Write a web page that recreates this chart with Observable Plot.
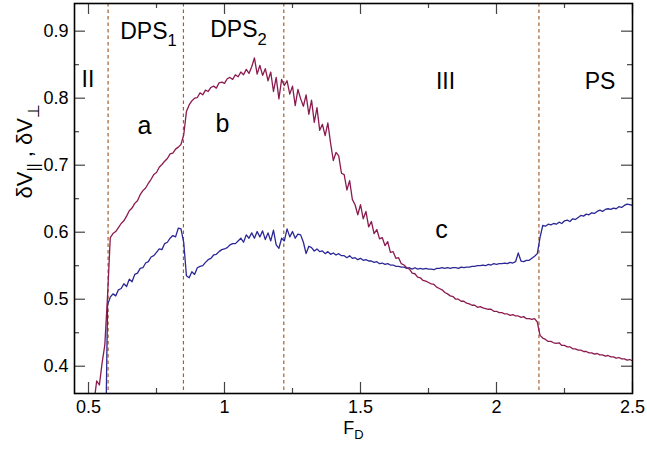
<!DOCTYPE html>
<html><head><meta charset="utf-8">
<script src="https://cdn.jsdelivr.net/npm/d3@7"></script>
<script src="https://cdn.jsdelivr.net/npm/@observablehq/plot@0.6"></script>
<style>body{margin:0;background:#fff} svg{display:block}</style>
</head><body><div id="chart"></div>
<script>
// F_D grid
const fd = [
0.52,0.53,0.54,0.55,0.56,0.57,0.58,0.59,0.60,0.61,
0.62,0.63,0.64,0.65,0.66,0.67,0.68,0.69,0.70,0.71,
0.72,0.73,0.74,0.75,0.76,0.77,0.78,0.79,0.80,0.81,
0.82,0.83,0.84,0.85,0.86,0.87,0.88,0.89,0.90,0.91,
0.92,0.93,0.94,0.95,0.96,0.97,0.98,0.99,1.00,1.01,
1.02,1.03,1.04,1.05,1.06,1.07,1.08,1.09,1.10,1.11,
1.12,1.13,1.14,1.15,1.16,1.17,1.18,1.19,1.20,1.21,
1.22,1.23,1.24,1.25,1.26,1.27,1.28,1.29,1.30,1.31,
1.32,1.33,1.34,1.35,1.36,1.37,1.38,1.39,1.40,1.41,
1.42,1.43,1.44,1.45,1.46,1.47,1.48,1.49,1.50,1.51,
1.52,1.53,1.54,1.55,1.56,1.57,1.58,1.59,1.60,1.61,
1.62,1.63,1.64,1.65,1.66,1.67,1.68,1.69,1.70,1.71,
1.72,1.73,1.74,1.75,1.76,1.77,1.78,1.79,1.80,1.81,
1.82,1.83,1.84,1.85,1.86,1.87,1.88,1.89,1.90,1.91,
1.92,1.93,1.94,1.95,1.96,1.97,1.98,1.99,2.00,2.01,
2.02,2.03,2.04,2.05,2.06,2.07,2.08,2.09,2.10,2.11,
2.12,2.13,2.14,2.15,2.16,2.17,2.18,2.19,2.20,2.21,
2.22,2.23,2.24,2.25,2.26,2.27,2.28,2.29,2.30,2.31,
2.32,2.33,2.34,2.35,2.36,2.37,2.38,2.39,2.40,2.41,
2.42,2.43,2.44,2.45,2.46,2.47,2.48,2.49,2.50];

// δV_|| (maroon)
const dVpar = [
0.345,0.378,0.372,0.405,0.432,0.505,0.592,0.598,0.601,0.607,
0.613,0.617,0.624,0.632,0.636,0.643,0.647,0.656,0.662,0.666,
0.673,0.679,0.686,0.689,0.697,0.701,0.706,0.710,0.717,0.718,
0.724,0.727,0.731,0.745,0.780,0.790,0.796,0.800,0.801,0.808,
0.805,0.812,0.810,0.816,0.818,0.815,0.823,0.824,0.822,0.829,
0.831,0.828,0.835,0.832,0.839,0.835,0.843,0.837,0.847,0.860,
0.836,0.849,0.834,0.844,0.826,0.839,0.810,0.831,0.799,0.828,
0.819,0.826,0.806,0.818,0.789,0.813,0.799,0.788,0.805,0.776,
0.797,0.764,0.786,0.752,0.761,0.744,0.763,0.733,0.707,0.719,
0.714,0.688,0.686,0.663,0.677,0.649,0.641,0.626,0.641,0.620,
0.631,0.608,0.616,0.598,0.604,0.590,0.592,0.580,0.586,0.570,
0.571,0.561,0.562,0.553,0.551,0.547,0.545,0.539,0.538,0.533,
0.532,0.528,0.527,0.525,0.523,0.522,0.518,0.516,0.514,0.510,
0.508,0.505,0.504,0.500,0.500,0.497,0.497,0.494,0.493,0.491,
0.491,0.488,0.489,0.487,0.486,0.485,0.485,0.482,0.482,0.480,
0.480,0.478,0.478,0.476,0.477,0.475,0.475,0.473,0.474,0.471,
0.471,0.470,0.471,0.466,0.446,0.442,0.440,0.437,0.437,0.435,
0.434,0.435,0.431,0.431,0.429,0.429,0.426,0.426,0.424,0.424,
0.422,0.422,0.420,0.420,0.418,0.419,0.417,0.417,0.415,0.416,
0.414,0.414,0.412,0.413,0.411,0.411,0.409,0.410,0.408];

// δV_⊥ (navy)
const dVperp = [
null,null,null,null,0.200,0.492,0.503,0.508,0.505,0.514,
0.516,0.523,0.519,0.530,0.526,0.537,0.539,0.546,0.547,0.554,
0.556,0.563,0.565,0.570,0.575,0.574,0.583,0.585,0.591,0.595,
0.593,0.606,0.605,0.585,0.535,0.532,0.541,0.537,0.547,0.549,
0.550,0.555,0.559,0.561,0.566,0.567,0.571,0.574,0.575,0.577,
0.581,0.583,0.583,0.587,0.591,0.585,0.596,0.591,0.599,0.591,
0.601,0.593,0.602,0.589,0.599,0.587,0.603,0.581,0.576,0.591,
0.587,0.605,0.593,0.601,0.591,0.597,0.596,0.585,0.568,0.579,
0.577,0.572,0.575,0.571,0.572,0.568,0.571,0.567,0.569,0.566,
0.568,0.565,0.565,0.562,0.565,0.561,0.562,0.559,0.561,0.558,
0.559,0.557,0.557,0.555,0.556,0.553,0.554,0.552,0.553,0.551,
0.551,0.549,0.549,0.548,0.548,0.546,0.547,0.545,0.547,0.545,
0.546,0.545,0.546,0.545,0.545,0.544,0.546,0.546,0.547,0.546,
0.547,0.546,0.547,0.547,0.546,0.548,0.547,0.548,0.548,0.549,
0.549,0.550,0.550,0.551,0.550,0.552,0.551,0.553,0.552,0.553,
0.553,0.554,0.553,0.555,0.554,0.556,0.569,0.557,0.556,0.558,
0.558,0.561,0.564,0.568,0.592,0.610,0.609,0.612,0.611,0.613,
0.612,0.615,0.613,0.617,0.618,0.616,0.620,0.619,0.622,0.625,
0.624,0.627,0.626,0.629,0.628,0.631,0.633,0.631,0.634,0.635,
0.634,0.636,0.635,0.638,0.637,0.640,0.642,0.641,0.640];

const boundaries = [0.572, 0.849, 1.218, 2.156];
const xMajor = [0.5, 1, 1.5, 2, 2.5];
const xMinor = [0.75, 1.25, 1.75, 2.25];
const yMajor = [0.4, 0.5, 0.6, 0.7, 0.8, 0.9];
const yMinor = [0.45, 0.55, 0.65, 0.75, 0.85];
const xTickLabels = ["0.5", "1", "1.5", "2", "2.5"];
const yTickLabels = ["0.4", "0.5", "0.6", "0.7", "0.8", "0.9"];
const phaseNames = ["II", "DPS_{1}", "DPS_{2}", "III", "PS"];
const phaseX = [0.498, 0.7206, 1.0515, 1.8125, 2.3805];
const phaseY = [0.816, 0.889, 0.8906, 0.813, 0.813];
const curveNames = ["a", "b", "c"];
const curveX = [0.706, 0.9926, 1.7978];
const curveY = [0.7473, 0.7493, 0.592];
const xTitle = "F_{D}";
const yTitle = "δV_{||} , δV_{⊥}";

const series = fd.map((x, i) => ({fd: x, par: dVpar[i], perp: dVperp[i]}));

const W = 647, H = 450, mL = 74, mR = 15, mT = 3, mB = 57;
const iw = W - mL - mR, ih = H - mT - mB;
const maj = 11, mnr = 5;

const plot = Plot.plot({
  width: W, height: H,
  marginLeft: mL, marginRight: mR, marginTop: mT, marginBottom: mB,
  style: {fontFamily: "'Liberation Sans', Arial, sans-serif", background: "white", color: "black"},
  x: {domain: [0.4485, 2.5]},
  y: {domain: [0.3593, 0.9413]},
  marks: [
    Plot.ruleX(boundaries, {x: d => d, stroke: "#a65f2c", strokeWidth: 1.2, strokeDasharray: "3.5,3"}),
    Plot.line(series, {x: "fd", y: "perp", stroke: "#2b2796", strokeWidth: 1.3, clip: true}),
    Plot.line(series, {x: "fd", y: "par", stroke: "#8b1a4f", strokeWidth: 1.3, clip: true}),
    // inward ticks, mirrored on all sides
    Plot.tickX(xMajor, {x: d => d, insetTop: ih - maj, stroke: "#444", strokeWidth: 1.2}),
    Plot.tickX(xMajor, {x: d => d, insetBottom: ih - maj, stroke: "#444", strokeWidth: 1.2}),
    Plot.tickX(xMinor, {x: d => d, insetTop: ih - mnr, stroke: "#444", strokeWidth: 1.2}),
    Plot.tickX(xMinor, {x: d => d, insetBottom: ih - mnr, stroke: "#444", strokeWidth: 1.2}),
    Plot.tickY(yMajor, {y: d => d, insetRight: iw - maj, stroke: "#444", strokeWidth: 1.2}),
    Plot.tickY(yMajor, {y: d => d, insetLeft: iw - maj, stroke: "#444", strokeWidth: 1.2}),
    Plot.tickY(yMinor, {y: d => d, insetRight: iw - mnr, stroke: "#444", strokeWidth: 1.2}),
    Plot.tickY(yMinor, {y: d => d, insetLeft: iw - mnr, stroke: "#444", strokeWidth: 1.2}),
    Plot.axisX({ticks: xMajor, tickSize: 0, tickPadding: 7, fontSize: 18, label: null,
      tickFormat: d => xTickLabels[xMajor.indexOf(d)]}),
    Plot.axisY({ticks: yMajor, tickSize: 0, tickPadding: 6, fontSize: 18, label: null,
      tickFormat: d => yTickLabels[yMajor.indexOf(d)]}),
    Plot.frame({stroke: "black", strokeWidth: 1.6}),
    Plot.text(phaseNames, {x: (d, i) => phaseX[i], y: (d, i) => phaseY[i], text: d => d,
      fontSize: 23, lineAnchor: "bottom", textAnchor: "middle"}),
    Plot.text(curveNames, {x: (d, i) => curveX[i], y: (d, i) => curveY[i], text: d => d,
      fontSize: 25, lineAnchor: "bottom", textAnchor: "middle"}),
    Plot.text([xTitle], {frameAnchor: "bottom", text: d => d, dy: 40, fontSize: 18, lineAnchor: "bottom"}),
    Plot.text([yTitle], {frameAnchor: "left", text: d => d, rotate: -90, dx: -43, dy: 0, fontSize: 22, lineAnchor: "bottom"})
  ]
});

document.getElementById("chart").append(plot);

// render "_{...}" as subscripts (after the SVG is in the document so font sizes resolve)
d3.select(plot).selectAll("text").each(function () {
  const t = this.textContent;
  if (!t.includes("_{")) return;
  const fs = parseFloat(getComputedStyle(this).fontSize) || 16;
  const shift = 0.33 * fs;
  const parts = t.split(/(_\{[^}]*\})/).filter(s => s);
  this.textContent = "";
  const sel = d3.select(this);
  let shifted = false;
  for (const p of parts) {
    if (p.startsWith("_{")) {
      sel.append("tspan").attr("font-size", (0.72 * fs) + "px").attr("dy", shift).text(p.slice(2, -1));
      shifted = true;
    } else {
      const ts = sel.append("tspan").text(p);
      if (shifted) { ts.attr("dy", -shift); shifted = false; }
    }
  }
});
</script>
</body></html>
